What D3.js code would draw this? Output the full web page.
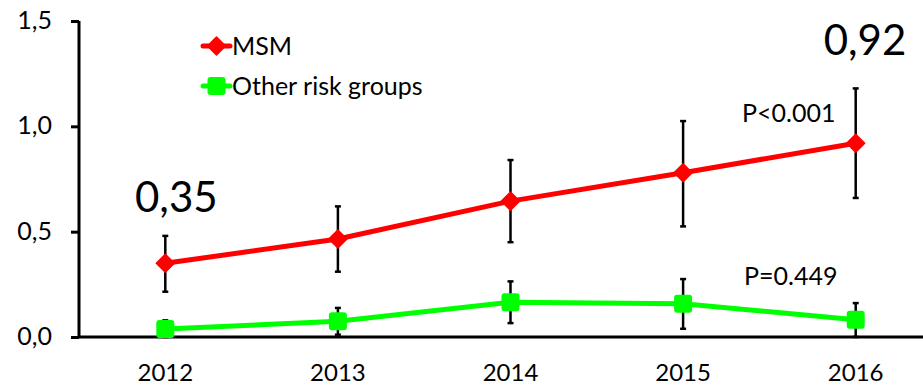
<!DOCTYPE html>
<html>
<head>
<meta charset="utf-8">
<script src="https://d3js.org/d3.v7.min.js"></script>
<style>
  body { margin: 0; background: #fff; }
  text { font-family: Lato, "Open Sans", sans-serif; fill: #000; }
</style>
</head>
<body>
<div id="container"></div>
<script>
// Data
const years = ["2012", "2013", "2014", "2015", "2016"]
const msm = [0.35, 0.465, 0.645, 0.78, 0.92]
const msmLow = [0.215, 0.31, 0.45, 0.525, 0.66]
const msmHigh = [0.48, 0.62, 0.84, 1.025, 1.18]
const other = [0.038, 0.075, 0.165, 0.158, 0.082]
const otherLow = [0.0, 0.011, 0.066, 0.039, 0.0]
const otherHigh = [0.079, 0.138, 0.264, 0.275, 0.161]
const yTicks = [0, 0.5, 1.0, 1.5]

const w = 923
const h = 388

const svg = d3.select("#container")
    .append("svg")
    .attr("width", w)
    .attr("height", h)

// Scales
const xScale = d3.scaleBand()
    .domain(years)
    .range([79, 942])

const yScale = d3.scaleLinear()
    .domain([0, 1.5])
    .range([337, 21])

const cx = d => xScale(d) + xScale.bandwidth() / 2
const comma = (v, n) => d3.format("." + n + "f")(v).replace(".", ",")

// Y axis
const yAxis = svg.append("g")
    .attr("transform", "translate(79,0)")
    .call(d3.axisLeft(yScale).tickValues(yTicks).tickFormat(v => comma(v, 1)).tickSize(8).tickPadding(19))
yAxis.select(".domain").attr("stroke", "#000").attr("stroke-width", 3).attr("d", "M0,21V337")
yAxis.selectAll(".tick line").attr("stroke", "#000").attr("stroke-width", 3)
yAxis.selectAll(".tick text").style("font-size", "25px").attr("dy", "0.3em")

// X axis
const xAxis = svg.append("g")
    .attr("transform", "translate(0,337)")
    .call(d3.axisBottom(xScale).tickSize(0).tickPadding(27))
xAxis.select(".domain").attr("stroke", "#000").attr("stroke-width", 3).attr("d", "M79,0H923")
xAxis.selectAll(".tick text").style("font-size", "24px")

// Series
const series = [
    { name: "MSM", values: msm, low: msmLow, high: msmHigh, color: "#ff0000", shape: "diamond" },
    { name: "Other risk groups", values: other, low: otherLow, high: otherHigh, color: "#00ff00", shape: "square" }
]

const drawMarker = (g, s, x, y) => {
    if (s.shape === "diamond") {
        g.append("path")
            .attr("d", `M${x},${y - 9}L${x + 9},${y}L${x},${y + 9}L${x - 9},${y}Z`)
            .attr("fill", s.color)
            .attr("stroke", s.color)
            .attr("stroke-width", 1.5)
            .attr("stroke-linejoin", "round")
    } else {
        g.append("rect")
            .attr("x", x - 9).attr("y", y - 9)
            .attr("width", 18).attr("height", 18)
            .attr("rx", 3)
            .attr("fill", s.color)
    }
}

series.forEach(s => {
    const g = svg.append("g")
    const line = d3.line()
        .x((d, i) => cx(years[i]))
        .y(d => yScale(d))
    g.append("path")
        .datum(s.values)
        .attr("d", line)
        .attr("fill", "none")
        .attr("stroke", s.color)
        .attr("stroke-width", 5)

    // error bars
    years.forEach((yr, i) => {
        const x = cx(yr)
        const y1 = yScale(s.low[i])
        const y2 = yScale(s.high[i])
        g.append("line").attr("x1", x).attr("x2", x).attr("y1", y1).attr("y2", y2)
            .attr("stroke", "#000").attr("stroke-width", 2.5)
        ;[y1, y2].forEach(yy => {
            g.append("line").attr("x1", x - 3).attr("x2", x + 3).attr("y1", yy).attr("y2", yy)
                .attr("stroke", "#000").attr("stroke-width", 2.5)
        })
    })

    years.forEach((yr, i) => drawMarker(g, s, cx(yr), yScale(s.values[i])))
})

// Legend
series.forEach((s, i) => {
    const ly = 46 + i * 40
    const g = svg.append("g")
    g.append("line").attr("x1", 203).attr("x2", 230).attr("y1", ly).attr("y2", ly)
        .attr("stroke", s.color).attr("stroke-width", 5).attr("stroke-linecap", "round")
    drawMarker(g, s, 216.5, ly)
    g.append("text")
        .attr("x", 232)
        .attr("y", ly + 9)
        .style("font-size", "25px")
        .text(s.name)
})

// Annotations
svg.append("text")
    .attr("x", cx("2012") + 11)
    .attr("y", 212)
    .attr("text-anchor", "middle")
    .style("font-size", "42px")
    .text(comma(msm[0], 2))

svg.append("text")
    .attr("x", 865)
    .attr("y", 55)
    .attr("text-anchor", "middle")
    .style("font-size", "42px")
    .text(comma(msm[4], 2))

svg.append("text")
    .attr("x", 742)
    .attr("y", 122)
    .style("font-size", "25px")
    .text("P<0.001")

svg.append("text")
    .attr("x", 744)
    .attr("y", 285)
    .style("font-size", "25px")
    .text("P=0.449")
</script>
</body>
</html>
